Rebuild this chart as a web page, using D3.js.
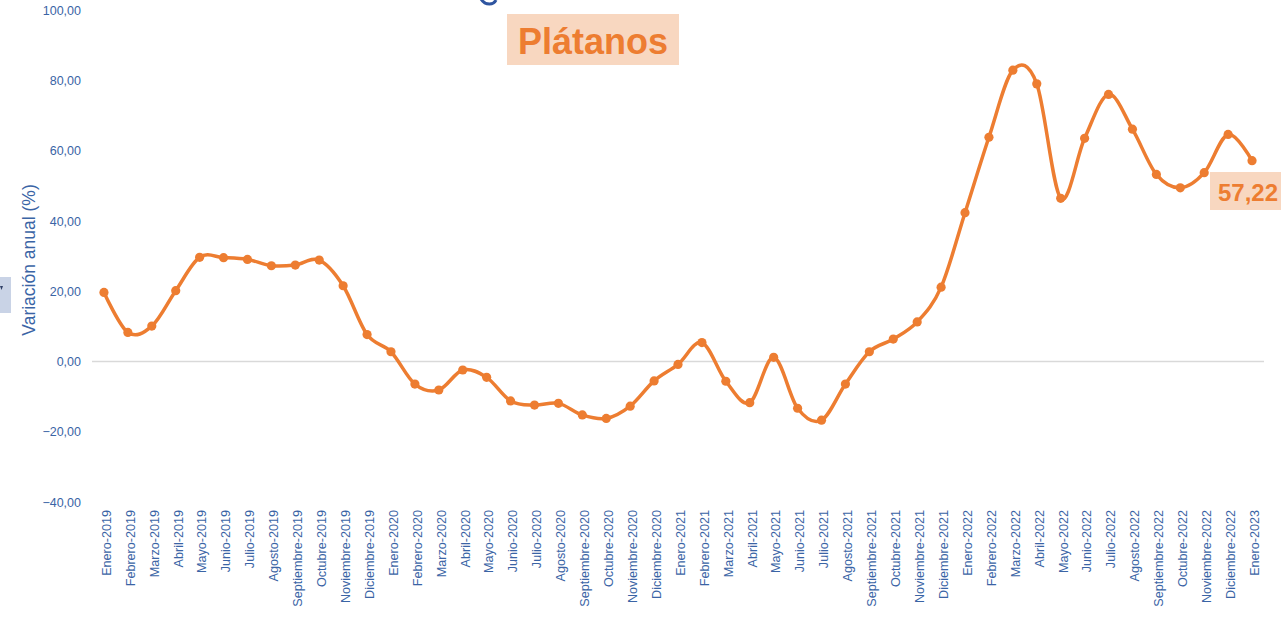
<!DOCTYPE html>
<html>
<head>
<meta charset="utf-8">
<script src="https://cdn.jsdelivr.net/npm/d3@7"></script>
<style>
  html, body { margin: 0; padding: 0; background: #ffffff; }
  svg { display: block; font-family: "Liberation Sans", Arial, sans-serif; }
</style>
</head>
<body>
<svg id="chart" width="1281" height="620"></svg>
<script>
const categories = [
  "Enero-2019","Febrero-2019","Marzo-2019","Abril-2019","Mayo-2019","Junio-2019","Julio-2019","Agosto-2019","Septiembre-2019","Octubre-2019","Noviembre-2019","Diciembre-2019",
  "Enero-2020","Febrero-2020","Marzo-2020","Abril-2020","Mayo-2020","Junio-2020","Julio-2020","Agosto-2020","Septiembre-2020","Octubre-2020","Noviembre-2020","Diciembre-2020",
  "Enero-2021","Febrero-2021","Marzo-2021","Abril-2021","Mayo-2021","Junio-2021","Julio-2021","Agosto-2021","Septiembre-2021","Octubre-2021","Noviembre-2021","Diciembre-2021",
  "Enero-2022","Febrero-2022","Marzo-2022","Abril-2022","Mayo-2022","Junio-2022","Julio-2022","Agosto-2022","Septiembre-2022","Octubre-2022","Noviembre-2022","Diciembre-2022",
  "Enero-2023"
];
const values = [
  19.7, 8.3, 10.1, 20.2, 29.7, 29.6, 29.1, 27.3, 27.5, 28.9, 21.6, 7.7,
  2.8, -6.4, -8.1, -2.4, -4.5, -11.2, -12.4, -11.9, -15.2, -16.2, -12.7, -5.5,
  -0.8, 5.4, -5.6, -11.7, 1.2, -13.3, -16.7, -6.4, 2.8, 6.4, 11.3, 21.2,
  42.4, 63.9, 83.0, 79.1, 46.5, 63.6, 76.1, 66.2, 53.3, 49.5, 53.8, 64.7,
  57.22
];
const yTicks = [-40, -20, 0, 20, 40, 60, 80, 100];
const chartTitle = "Plátanos";
const yAxisTitle = "Variación anual (%)";

const svg = d3.select("#chart");
const orange = "#ED7D31";
const blue = "#3A64A5";
const locale = d3.formatLocale({decimal: ",", thousands: ".", grouping: [3], currency: ["", ""]});
const fmt = locale.format(".2f");

const x = d3.scalePoint().domain(categories).range([92, 1264]).padding(0.5);
const y = d3.scaleLinear().domain([-40, 100]).range([502, 10.5]);

// partial cut-off heading glyph at top (only its lower tail is visible)
svg.append("path")
  .attr("d", "M481,-1 Q484,4 489.5,4 Q494,4 496,0")
  .attr("fill", "none")
  .attr("stroke", "#2F55A0")
  .attr("stroke-width", 3);

// small side element at left edge
svg.append("rect").attr("x", 0).attr("y", 277).attr("width", 11).attr("height", 36).attr("fill", "#C9D3E6");
svg.append("path").attr("d", "M0,286 L3,286 L1.5,290 Z").attr("fill", "#2F3F66");

// zero gridline
svg.append("line")
  .attr("x1", 92).attr("x2", 1264)
  .attr("y1", y(0)).attr("y2", y(0))
  .attr("stroke", "#D9D9D9").attr("stroke-width", 1.5);

// y axis
const yAxis = d3.axisLeft(y).tickValues(yTicks).tickSize(0).tickPadding(11).tickFormat(fmt);
const gy = svg.append("g").attr("transform", "translate(92,0)").call(yAxis);
gy.select(".domain").remove();
gy.selectAll("text")
  .attr("fill", blue).attr("font-size", 12.5)
  .attr("font-family", "'Liberation Sans', Arial, sans-serif");

// x axis labels
const xAxis = d3.axisBottom(x).tickSize(0).tickPadding(0);
const gx = svg.append("g").attr("transform", "translate(0,510)").call(xAxis);
gx.select(".domain").remove();
gx.selectAll("text")
  .attr("fill", blue).attr("font-size", 12.6)
  .attr("font-family", "'Liberation Sans', Arial, sans-serif")
  .attr("text-anchor", "end")
  .attr("transform", "rotate(-90)")
  .attr("x", 0).attr("y", 0).attr("dy", "0.5em");

// y axis title
svg.append("text")
  .attr("transform", "translate(35,260) rotate(-90)")
  .attr("text-anchor", "middle")
  .attr("font-size", 17.5)
  .attr("fill", blue)
  .text(yAxisTitle);

// line
const line = d3.line()
  .x((d, i) => x(categories[i]))
  .y(d => y(d))
  .curve(d3.curveCatmullRom.alpha(0));
svg.append("path")
  .datum(values)
  .attr("d", line)
  .attr("fill", "none")
  .attr("stroke", orange)
  .attr("stroke-width", 3.5)
  .attr("stroke-linejoin", "round");

svg.append("g").selectAll("circle")
  .data(values)
  .join("circle")
  .attr("cx", (d, i) => x(categories[i]))
  .attr("cy", d => y(d))
  .attr("r", 4.6)
  .attr("fill", orange);

// title box
const tg = svg.append("g");
tg.append("rect").attr("x", 507).attr("y", 14).attr("width", 172).attr("height", 51).attr("fill", "#F8D7C0");
tg.append("text")
  .attr("x", 593).attr("y", 53.5)
  .attr("text-anchor", "middle")
  .attr("font-size", 36).attr("font-weight", "bold")
  .attr("fill", orange)
  .text(chartTitle);

// last value label
const last = values[values.length - 1];
const lg = svg.append("g");
lg.append("rect").attr("x", 1210).attr("y", 172).attr("width", 80).attr("height", 38).attr("fill", "#F8D7C0");
lg.append("text")
  .attr("x", 1218).attr("y", 201)
  .attr("font-size", 24).attr("font-weight", "bold")
  .attr("fill", orange)
  .text(fmt(last));
</script>
</body>
</html>
